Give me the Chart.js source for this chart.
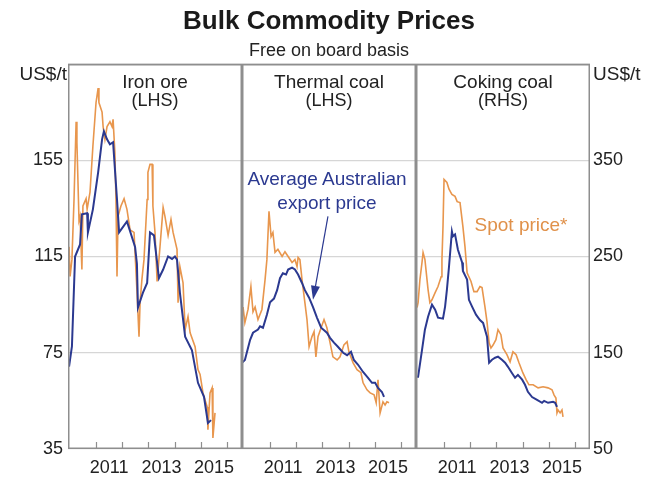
<!DOCTYPE html>
<html>
<head>
<meta charset="utf-8">
<script src="https://cdn.jsdelivr.net/npm/chart.js@4.4.1/dist/chart.umd.min.js"></script>
<style>
  html, body { margin: 0; padding: 0; background: #fff; }
  #wrap { position: relative; width: 650px; height: 488px; overflow: hidden;
          font-family: "Liberation Sans", Arial, sans-serif; color: #222; }
  #wrap canvas { position: absolute; top: 0; }
  .lbl { position: absolute; white-space: nowrap; line-height: 1; font-size: 19px; }
  .c { transform: translate(-50%, -50%); }
</style>
</head>
<body>
<div id="wrap">
  <canvas id="ironChart" width="242" height="488" style="left:0"></canvas>
  <canvas id="thermalChart" width="174" height="488" style="left:242px"></canvas>
  <canvas id="cokingChart" width="234" height="488" style="left:416px"></canvas>

  <div class="lbl c" style="left:329px; top:20px; font-size:26px; font-weight:bold; color:#1a1a1a">Bulk Commodity Prices</div>
  <div class="lbl c" style="left:329px; top:50px; font-size:18px">Free on board basis</div>
  <div class="lbl" style="right:583px; top:64px">US$/t</div>
  <div class="lbl" style="left:593px; top:64px">US$/t</div>

  <div class="lbl c" style="left:155px; top:81px">Iron ore</div>
  <div class="lbl c" style="left:155px; top:100px; font-size:18px">(LHS)</div>
  <div class="lbl c" style="left:329px; top:81px">Thermal coal</div>
  <div class="lbl c" style="left:329px; top:100px; font-size:18px">(LHS)</div>
  <div class="lbl c" style="left:503px; top:81px">Coking coal</div>
  <div class="lbl c" style="left:503px; top:100px; font-size:18px">(RHS)</div>

  <div class="lbl c" style="left:327px; top:178px; color:#2b3990">Average Australian</div>
  <div class="lbl c" style="left:327px; top:202px; color:#2b3990">export price</div>
  <div class="lbl c" style="left:521px; top:224px; color:#e0914a">Spot price*</div>
</div>

<script>
// ============================================
// DATA (decimal years, US$/t)
// ============================================

const xMin = 2009.93;
const xMax = 2016.57;
const yearTicks = [2011, 2013, 2015];
const yearMarks = [2011, 2012, 2013, 2014, 2015, 2016];

const leftTicks = [35, 75, 115, 155, 195];
const rightTicks = [50, 150, 250, 350, 450];

// Iron ore
const ironAvgX = [2009.97, 2010.08, 2010.20, 2010.39, 2010.46, 2010.66, 2010.69, 2010.88, 2011.08, 2011.23, 2011.30, 2011.42, 2011.53, 2011.65, 2011.80, 2011.88, 2012.18, 2012.49, 2012.56, 2012.60, 2012.79, 2012.95, 2013.06, 2013.21, 2013.40, 2013.56, 2013.75, 2013.90, 2014.01, 2014.09, 2014.20, 2014.40, 2014.66, 2014.89, 2015.12, 2015.27, 2015.39];
const ironAvg  = [69.2, 77.6, 115, 120, 132.5, 133, 125, 134.6, 150, 163.7, 167, 163.7, 161.6, 162.5, 138.7, 125, 129.6, 119, 112, 93.8, 100, 104, 125, 123.8, 106, 109.6, 115, 114, 115, 113.7, 100, 81.7, 76, 62.5, 56.7, 45.8, 47];

const ironSpotX = [2009.97, 2010.01, 2010.08, 2010.16, 2010.24, 2010.27, 2010.35, 2010.39, 2010.46, 2010.50, 2010.62, 2010.66, 2010.77, 2010.88, 2011.00, 2011.08, 2011.11, 2011.23, 2011.27, 2011.34, 2011.42, 2011.53, 2011.61, 2011.65, 2011.72, 2011.76, 2011.80, 2011.84, 2011.95, 2012.07, 2012.18, 2012.30, 2012.45, 2012.56, 2012.64, 2012.68, 2012.75, 2012.83, 2012.95, 2012.98, 2013.06, 2013.14, 2013.17, 2013.25, 2013.33, 2013.44, 2013.56, 2013.63, 2013.75, 2013.86, 2013.94, 2014.09, 2014.13, 2014.20, 2014.32, 2014.40, 2014.51, 2014.59, 2014.78, 2014.89, 2014.97, 2015.08, 2015.24, 2015.27, 2015.35, 2015.43, 2015.46, 2015.54];
const ironSpot  = [119, 106.7, 113.7, 138.7, 171, 162.5, 130, 131.7, 109.6, 136, 139, 134.6, 141.7, 160.8, 179, 185, 179, 175, 169, 163.7, 169, 171, 169, 172, 158, 138.7, 106.7, 131.7, 136, 139, 134.6, 126, 125, 101, 81.7, 95.8, 105.4, 113.7, 138.7, 150, 153.3, 153.3, 136, 125, 104.6, 119, 135.4, 131.7, 123.8, 130.4, 125, 118, 95.8, 110.8, 104, 84.6, 90, 83.3, 77.5, 68, 66, 58.3, 52.5, 43, 58.3, 60.4, 39.6, 50];

// Thermal coal
const thermalAvgX = [2009.93, 2010.04, 2010.24, 2010.35, 2010.54, 2010.62, 2010.73, 2010.88, 2011.00, 2011.15, 2011.27, 2011.38, 2011.49, 2011.61, 2011.69, 2011.84, 2011.95, 2012.07, 2012.22, 2012.33, 2012.49, 2012.64, 2012.79, 2012.95, 2013.17, 2013.29, 2013.44, 2013.59, 2013.79, 2013.94, 2014.09, 2014.20, 2014.36, 2014.55, 2014.74, 2014.89, 2015.01, 2015.12, 2015.27, 2015.35];
const thermalAvg  = [70.8, 72, 80.4, 83.3, 84.6, 86, 85.4, 90.8, 96, 97.5, 101, 106, 108, 107.5, 109.6, 110.4, 109.6, 107.5, 104, 101, 97.9, 94, 89.6, 85.4, 83.3, 81.2, 79.2, 77.5, 75, 74, 75.4, 72, 70, 67, 64.6, 62.5, 62.5, 60.4, 58.7, 56.7];

const thermalSpotX = [2009.93, 2009.97, 2010.04, 2010.16, 2010.27, 2010.35, 2010.43, 2010.54, 2010.69, 2010.81, 2010.88, 2010.96, 2011.04, 2011.11, 2011.19, 2011.30, 2011.46, 2011.57, 2011.69, 2011.84, 2011.95, 2012.03, 2012.07, 2012.14, 2012.22, 2012.33, 2012.41, 2012.49, 2012.60, 2012.68, 2012.75, 2012.83, 2012.95, 2013.06, 2013.17, 2013.29, 2013.40, 2013.56, 2013.67, 2013.82, 2013.94, 2014.01, 2014.17, 2014.32, 2014.47, 2014.55, 2014.70, 2014.82, 2014.97, 2015.05, 2015.12, 2015.20, 2015.31, 2015.39, 2015.46, 2015.54];
const thermalSpot  = [88.8, 94, 87.5, 93, 102.5, 92, 94, 88.8, 93, 105.4, 113.7, 133.8, 123.3, 125, 116.7, 118, 115, 117, 115, 112.5, 113.7, 110.8, 114.6, 113.7, 105.4, 95.8, 88.8, 77.5, 81.7, 83.8, 73.3, 81.7, 85.4, 88.8, 85.4, 79.2, 73.3, 72, 73.3, 78.3, 79.6, 75.4, 70.8, 68, 66.7, 62.5, 59.6, 58.3, 57.5, 54.2, 63.8, 50, 54.6, 53.3, 54.6, 54.2];

// Coking coal
const cokingAvgX = [2009.97, 2010.01, 2010.16, 2010.27, 2010.39, 2010.54, 2010.66, 2010.77, 2010.96, 2011.04, 2011.11, 2011.19, 2011.30, 2011.34, 2011.42, 2011.53, 2011.69, 2011.72, 2011.88, 2011.95, 2012.07, 2012.22, 2012.37, 2012.49, 2012.64, 2012.72, 2012.83, 2012.95, 2013.06, 2013.21, 2013.33, 2013.44, 2013.59, 2013.71, 2013.82, 2013.98, 2014.09, 2014.20, 2014.36, 2014.55, 2014.74, 2014.82, 2014.97, 2015.16, 2015.24, 2015.31];
const cokingAvg  = [125, 125, 153, 174, 187.5, 200, 194.8, 186.5, 185.4, 198, 215.6, 239.6, 276, 271, 273, 257, 243.8, 235, 226, 205, 198, 189.6, 184, 181, 166.7, 139.6, 142.7, 144.8, 146, 142.7, 139.6, 135.4, 129, 124, 127, 122, 116.7, 109.4, 104, 101, 98, 100, 98, 99, 98, 93.8];

const cokingSpotX = [2009.97, 2010.01, 2010.08, 2010.16, 2010.20, 2010.27, 2010.35, 2010.39, 2010.46, 2010.54, 2010.66, 2010.77, 2010.89, 2010.92, 2010.96, 2011.00, 2011.11, 2011.19, 2011.30, 2011.42, 2011.50, 2011.61, 2011.72, 2011.80, 2011.88, 2011.91, 2012.03, 2012.14, 2012.26, 2012.37, 2012.45, 2012.56, 2012.64, 2012.72, 2012.79, 2012.87, 2012.98, 2013.06, 2013.17, 2013.25, 2013.40, 2013.52, 2013.63, 2013.75, 2013.86, 2014.01, 2014.13, 2014.24, 2014.40, 2014.59, 2014.78, 2014.97, 2015.12, 2015.20, 2015.27, 2015.31, 2015.35, 2015.43, 2015.50, 2015.54];
const cokingSpot  = [197, 202, 226, 244, 254, 247, 226, 215.6, 202, 205, 212.5, 218.8, 229, 247, 281, 330, 327, 320, 314.6, 312.5, 307, 306, 281, 260, 233, 233, 224, 213.5, 213.5, 218.8, 217.7, 198, 182, 160.4, 155, 158, 163.5, 174, 168.8, 155, 148, 140.6, 151, 148, 139.6, 129, 122, 116.7, 116.7, 113.5, 114.6, 113.5, 111.5, 106, 103, 87.5, 90.6, 87.5, 90.6, 83.3];

// annotation arrow (thermal panel, data coordinates)
const arrowFrom = [2013.21, 131.7];
const arrowTo = [2012.64, 97];

// ============================================
// STYLE
// ============================================

const blue = "#2b3990";
const orange = "#e8964d";
const gridGrey = "#d6d6d6";
const boxGrey = "#8e8e8e";
const textColor = "#222";
const tickFont = { family: "'Liberation Sans', Arial, sans-serif", size: 18 };

function points(xs, ys) {
    return xs.map(function (x, i) { return { x: x, y: ys[i] }; });
}

// box round each panel plus the small inner year ticks
const panelBox = {
    id: "panelBox",
    afterDatasetsDraw(chart) {
        const ctx = chart.ctx;
        const a = chart.chartArea;
        const xs = chart.scales.x;
        ctx.save();
        ctx.strokeStyle = boxGrey;
        ctx.lineWidth = 1.5;
        ctx.strokeRect(a.left + 0.75, a.top + 0.75, a.right - a.left - 1.5, a.bottom - a.top - 1.5);
        ctx.lineWidth = 1.2;
        ctx.beginPath();
        yearMarks.forEach(function (yr) {
            const px = Math.round(xs.getPixelForValue(yr)) + 0.5;
            ctx.moveTo(px, a.bottom);
            ctx.lineTo(px, a.bottom - 7);
        });
        ctx.stroke();
        ctx.restore();
    }
};

const arrowPlugin = {
    id: "arrowPlugin",
    afterDatasetsDraw(chart) {
        const ctx = chart.ctx;
        const xs = chart.scales.x;
        const ys = chart.scales.y;
        const x0 = xs.getPixelForValue(arrowFrom[0]);
        const y0 = ys.getPixelForValue(arrowFrom[1]);
        const x1 = xs.getPixelForValue(arrowTo[0]);
        const y1 = ys.getPixelForValue(arrowTo[1]);
        const ang = Math.atan2(y1 - y0, x1 - x0);
        const len = 14, half = 4.5;
        const bx = x1 - Math.cos(ang) * len;
        const by = y1 - Math.sin(ang) * len;
        ctx.save();
        ctx.strokeStyle = blue;
        ctx.fillStyle = blue;
        ctx.lineWidth = 1.2;
        ctx.beginPath();
        ctx.moveTo(x0, y0);
        ctx.lineTo(bx, by);
        ctx.stroke();
        ctx.beginPath();
        ctx.moveTo(x1, y1);
        ctx.lineTo(bx + Math.sin(ang) * half, by - Math.cos(ang) * half);
        ctx.lineTo(bx - Math.sin(ang) * half, by + Math.cos(ang) * half);
        ctx.closePath();
        ctx.fill();
        ctx.restore();
    }
};

function xScale() {
    return {
        type: "linear",
        min: xMin,
        max: xMax,
        afterBuildTicks: function (s) {
            s.ticks = yearTicks.map(function (y) { return { value: y + 0.5 }; });
        },
        afterFit: function (s) { s.height = 39; },
        grid: { display: false, drawTicks: false },
        border: { display: false },
        ticks: {
            autoSkip: false,
            maxRotation: 0,
            padding: 8,
            color: textColor,
            font: tickFont,
            callback: function (v) { return String(Math.floor(v)); }
        }
    };
}

function yScale(side, tickList, width, showLabels) {
    const top = tickList[tickList.length - 1];
    return {
        type: "linear",
        position: side,
        min: tickList[0],
        max: top,
        afterBuildTicks: function (s) {
            s.ticks = tickList.map(function (v) { return { value: v }; });
        },
        afterFit: function (s) { s.width = width; },
        grid: { color: gridGrey, lineWidth: 1.2, drawTicks: false },
        border: { display: false },
        ticks: {
            display: showLabels,
            padding: side === "left" ? 5 : 3,
            color: textColor,
            font: tickFont,
            callback: function (v) { return v === top ? "" : String(v); }
        }
    };
}

function makePanel(id, avgX, avg, spotX, spot, y, extraPlugins) {
    return new Chart(document.getElementById(id), {
        type: "line",
        data: {
            datasets: [{
                label: "Average Australian export price",
                data: points(avgX, avg),
                borderColor: blue,
                borderWidth: 2,
                pointRadius: 0,
                tension: 0
            }, {
                label: "Spot price",
                data: points(spotX, spot),
                borderColor: orange,
                borderWidth: 1.6,
                pointRadius: 0,
                tension: 0
            }]
        },
        options: {
            responsive: false,
            animation: false,
            devicePixelRatio: 1,
            layout: { padding: { top: 64, left: 0, right: 0, bottom: 0 } },
            plugins: {
                legend: { display: false },
                tooltip: { enabled: false }
            },
            scales: { x: xScale(), y: y }
        },
        plugins: [panelBox].concat(extraPlugins || [])
    });
}

// ============================================
// PANELS
// ============================================

const ironChart = makePanel("ironChart", ironAvgX, ironAvg, ironSpotX, ironSpot,
    yScale("left", leftTicks, 68, true));

const thermalChart = makePanel("thermalChart", thermalAvgX, thermalAvg, thermalSpotX, thermalSpot,
    yScale("left", leftTicks, 0, false), [arrowPlugin]);

const cokingChart = makePanel("cokingChart", cokingAvgX, cokingAvg, cokingSpotX, cokingSpot,
    yScale("right", rightTicks, 60, true));
</script>
</body>
</html>
